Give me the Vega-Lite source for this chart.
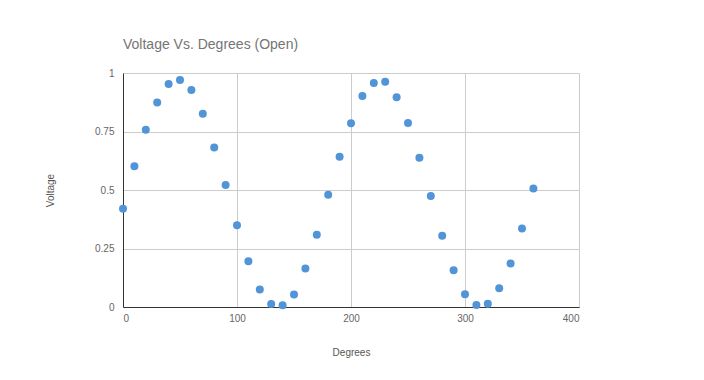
{
  "$schema": "https://vega.github.io/schema/vega-lite/v6.json",
  "width": 456,
  "height": 234,
  "autosize": "none",
  "padding": {"left": 123, "top": 73, "right": 125, "bottom": 73},
  "background": "white",
  "title": {
    "text": "Voltage Vs. Degrees (Open)",
    "anchor": "start",
    "frame": "group",
    "font": "Liberation Sans",
    "fontSize": 14,
    "fontWeight": "normal",
    "color": "#757575",
    "offset": 16
  },
  "config": {
    "view": {"stroke": null},
    "axis": {
      "labelFont": "Liberation Sans",
      "titleFont": "Liberation Sans",
      "labelFontSize": 10,
      "titleFontSize": 10,
      "labelColor": "#666666",
      "titleColor": "#555555",
      "titleFontWeight": "normal",
      "gridColor": "#cccccc",
      "gridOpacity": 1,
      "domainColor": "#333333",
      "ticks": false
    }
  },
  "data": {
    "values": [
      {"deg": 0, "v": 0.420}, {"deg": 10, "v": 0.601}, {"deg": 20, "v": 0.758},
      {"deg": 30, "v": 0.874}, {"deg": 40, "v": 0.953}, {"deg": 50, "v": 0.970},
      {"deg": 60, "v": 0.927}, {"deg": 70, "v": 0.826}, {"deg": 80, "v": 0.682},
      {"deg": 90, "v": 0.521}, {"deg": 100, "v": 0.349}, {"deg": 110, "v": 0.195},
      {"deg": 120, "v": 0.075}, {"deg": 130, "v": 0.013}, {"deg": 140, "v": 0.007},
      {"deg": 150, "v": 0.053}, {"deg": 160, "v": 0.165}, {"deg": 170, "v": 0.309},
      {"deg": 180, "v": 0.480}, {"deg": 190, "v": 0.642}, {"deg": 200, "v": 0.785},
      {"deg": 210, "v": 0.902}, {"deg": 220, "v": 0.957}, {"deg": 230, "v": 0.963},
      {"deg": 240, "v": 0.896}, {"deg": 250, "v": 0.786}, {"deg": 260, "v": 0.638},
      {"deg": 270, "v": 0.474}, {"deg": 280, "v": 0.305}, {"deg": 290, "v": 0.157},
      {"deg": 300, "v": 0.054}, {"deg": 310, "v": 0.009}, {"deg": 320, "v": 0.014},
      {"deg": 330, "v": 0.080}, {"deg": 340, "v": 0.186}, {"deg": 350, "v": 0.336},
      {"deg": 360, "v": 0.506}
    ]
  },
  "mark": {"type": "circle", "size": 64, "color": "#5194d8", "opacity": 1},
  "encoding": {
    "x": {
      "field": "deg",
      "type": "quantitative",
      "scale": {"domain": [0, 400], "nice": false},
      "axis": {"title": "Degrees", "values": [0, 100, 200, 300, 400], "format": "d", "labelPadding": 6, "titleY": 45, "titleBaseline": "middle"}
    },
    "y": {
      "field": "v",
      "type": "quantitative",
      "scale": {"domain": [0, 1], "nice": false},
      "axis": {"title": "Voltage", "values": [0, 0.25, 0.5, 0.75, 1], "format": ".2~f", "labelPadding": 9, "titleX": -73, "titleY": 117, "titleBaseline": "middle", "titleAngle": -90}
    }
  }
}
